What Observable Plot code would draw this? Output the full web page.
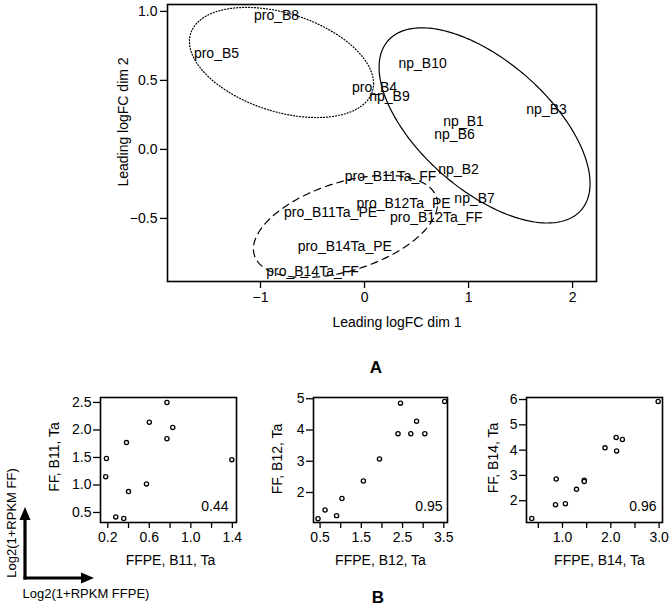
<!DOCTYPE html>
<html>
<head>
<meta charset="utf-8">
<script src="https://cdn.jsdelivr.net/npm/d3@7"></script>
<script src="https://cdn.jsdelivr.net/npm/@observablehq/plot@0.6"></script>
<style>
  html, body { margin: 0; padding: 0; background: white; }
  #root { position: relative; width: 671px; height: 611px; font-family: "Liberation Sans", Arial, sans-serif; }
  #root svg { position: absolute; overflow: visible; }
</style>
</head>
<body>
<div id="root"></div>
<script>
// ---------- Panel A: MDS plot ----------
const mdsLabels = ["pro_B8","pro_B5","pro_B4","np_B9","np_B10","np_B1","np_B6","np_B3","np_B2","np_B7",
  "pro_B11Ta_FF","pro_B12Ta_PE","pro_B11Ta_PE","pro_B12Ta_FF","pro_B14Ta_PE","pro_B14Ta_FF"];
const mdsDim1 = [-0.846,-1.423,0.096,0.24,0.558,0.952,0.865,1.75,0.904,1.058,0.25,0.375,-0.327,0.69,-0.19,-0.5];
const mdsDim2 = [0.971,0.696,0.45,0.384,0.623,0.203,0.109,0.29,-0.145,-0.355,-0.196,-0.391,-0.457,-0.493,-0.703,-0.884];
const mdsXTicks = [-1, 0, 1, 2];
const mdsYTicks = [-0.5, 0, 0.5, 1.0];

// group ellipses (centre, half-extent in x and y, correlation of the outline)
const ellipseGroup = ["pro", "np", "proTa"];
const ellipseCx = [-0.798, 1.154, -0.183];
const ellipseCy = [0.630, 0.174, -0.558];
const ellipseRx = [0.885, 1.014, 0.885];
const ellipseRy = [0.399, 0.707, 0.37];
const ellipseRho = [-0.382, -0.595, 0.44];
const ellipseDash = ["1,2", null, "7,5"];

// ---------- Panel B: scatter plots ----------
const p1x = [0.187,0.18,0.277,0.354,0.38,0.40,0.573,0.60,0.77,0.77,0.826,1.395];
const p1y = [1.48,1.15,0.42,0.39,1.77,0.88,1.02,2.14,2.5,1.84,2.045,1.46];
const p2x = [0.45,0.62,0.90,1.03,1.55,1.94,2.39,2.45,2.70,2.84,3.04,3.52];
const p2y = [1.16,1.44,1.26,1.81,2.37,3.07,3.88,4.86,3.88,4.28,3.88,4.91];
const p3x = [0.364,0.855,0.87,1.06,1.29,1.45,1.45,1.88,2.11,2.12,2.24,2.98];
const p3y = [1.30,1.84,2.86,1.88,2.45,2.81,2.76,4.09,4.50,3.97,4.42,5.92];
const panelCorr = ["0.44", "0.95", "0.96"];
const panelXLabel = ["FFPE, B11, Ta", "FFPE, B12, Ta", "FFPE, B14, Ta"];
const panelYLabel = ["FF, B11, Ta", "FF, B12, Ta", "FF, B14, Ta"];
const panelXTicks = [[0.2,0.4,0.6,0.8,1.0,1.2,1.4],[0.5,1.0,1.5,2.0,2.5,3.0,3.5],[0.5,1.0,1.5,2.0,2.5,3.0]];
const panelXLabeled = [[0.2,0.6,1.0,1.4],[0.5,1.5,2.5,3.5],[1.0,2.0,3.0]];
const panelYTicks = [[0.5,1.0,1.5,2.0,2.5],[2,3,4,5],[2,3,4,5,6]];
const panelYFormat = [".1f", "d", "d"];

const FONT = "Liberation Sans, Arial, Helvetica, sans-serif";
const root = document.getElementById("root");

function place(svg, left, top) {
  svg.style.left = left + "px";
  svg.style.top = top + "px";
  root.appendChild(svg);
}

// ----- MDS -----
const mds = mdsLabels.map((label, i) => ({label, d1: mdsDim1[i], d2: mdsDim2[i]}));
const ellipseRows = [];
ellipseGroup.forEach((g, k) => {
  const s = Math.sqrt(1 - ellipseRho[k] * ellipseRho[k]);
  for (let j = 0; j <= 240; j++) {
    const t = (j / 240) * 2 * Math.PI;
    ellipseRows.push({
      group: g,
      x: ellipseCx[k] + ellipseRx[k] * Math.cos(t),
      y: ellipseCy[k] + ellipseRy[k] * (ellipseRho[k] * Math.cos(t) + s * Math.sin(t))
    });
  }
});

const centered = {textAnchor: "middle", lineAnchor: "middle", fontSize: 14, fill: "black"};

const topPlot = Plot.plot({
  width: 671, height: 330,
  marginLeft: 167, marginRight: 75, marginTop: 4, marginBottom: 49,
  style: {fontFamily: FONT, color: "black", background: "transparent"},
  x: {domain: [-1.894, 2.23]},
  y: {domain: [-0.957, 1.05]},
  marks: [
    ...ellipseGroup.map((g, k) => Plot.line(ellipseRows.filter(r => r.group === g), {
      x: "x", y: "y", stroke: "black", strokeWidth: 1.2,
      strokeDasharray: ellipseDash[k] ?? undefined
    })),
    Plot.text(mds, {x: "d1", y: "d2", text: "label", ...centered}),
    Plot.frame({stroke: "black", strokeWidth: 1.6}),
    Plot.axisX(mdsXTicks, {tickSize: 7, tickPadding: 4, fontSize: 14, strokeWidth: 1.3, label: null, tickFormat: d3.format("d")}),
    Plot.axisY(mdsYTicks, {tickSize: 7, tickPadding: 3, fontSize: 14, strokeWidth: 1.3, label: null, tickFormat: d3.format(".1f")}),
    Plot.text(["Leading logFC dim 1"], {frameAnchor: "bottom", dx: 15, dy: 41, ...centered}),
    Plot.text(["Leading logFC dim 2"], {frameAnchor: "left", rotate: -90, dx: -44, dy: -21, ...centered})
  ]
});
place(topPlot, 0, 0);

// ----- scatter panels -----
const panelXs = [p1x, p2x, p3x];
const panelYs = [p1y, p2y, p3y];
const panelLayout = [
  {left: 0,   width: 240, ml: 100, mr: 4, xd: [0.13, 1.44],  yd: [0.318, 2.59], xlDx: 2, ylDx: -46, ylDy: -3, cDx: -8},
  {left: 230, width: 220, ml: 83,  mr: 3, xd: [0.34, 3.59],  yd: [1.04, 5.04],  xlDx: 0, ylDx: -36, ylDy: -1, cDx: -5},
  {left: 440, width: 231, ml: 86,  mr: 9, xd: [0.255, 3.07], yd: [1.14, 6.08],  xlDx: 5, ylDx: -33, ylDy: -2, cDx: -6}
];
const fmt1 = d3.format(".1f");
panelLayout.forEach((L, k) => {
  const pts = panelXs[k].map((x, i) => ({x, y: panelYs[k][i]}));
  const labeled = panelXLabeled[k];
  const p = Plot.plot({
    width: L.width, height: 220,
    marginLeft: L.ml, marginRight: L.mr, marginTop: 36, marginBottom: 59,
    style: {fontFamily: FONT, color: "black", background: "transparent"},
    x: {domain: L.xd},
    y: {domain: L.yd},
    marks: [
      Plot.dot(pts, {x: "x", y: "y", r: 2.1, stroke: "black", strokeWidth: 1.3, fill: "white"}),
      Plot.frame({stroke: "black", strokeWidth: 1.6}),
      Plot.axisX(panelXTicks[k], {tickSize: 6, tickPadding: 4, fontSize: 14, strokeWidth: 1.3, label: null,
        tickFormat: d => labeled.some(v => Math.abs(v - d) < 1e-9) ? fmt1(d) : ""}),
      Plot.axisY(panelYTicks[k], {tickSize: 7, tickPadding: 2, fontSize: 14, strokeWidth: 1.3, label: null,
        tickFormat: d3.format(panelYFormat[k])}),
      Plot.text([panelCorr[k]], {frameAnchor: "bottom-right", dx: L.cDx, dy: -16, ...centered, textAnchor: "end"}),
      Plot.text([panelXLabel[k]], {frameAnchor: "bottom", dx: L.xlDx, dy: 38, ...centered}),
      Plot.text([panelYLabel[k]], {frameAnchor: "left", rotate: -90, dx: L.ylDx, dy: L.ylDy, ...centered})
    ]
  });
  place(p, L.left, 361);
});

// ----- overlay: panel letters and axis key arrows -----
const NS = "http://www.w3.org/2000/svg";
const ov = document.createElementNS(NS, "svg");
ov.setAttribute("width", 671);
ov.setAttribute("height", 611);
ov.style.left = "0px"; ov.style.top = "0px"; ov.style.pointerEvents = "none";
ov.innerHTML = `
  <g font-family="${FONT}" fill="black">
    <text x="376" y="373" font-size="17" font-weight="bold" text-anchor="middle">A</text>
    <text x="378" y="603" font-size="17" font-weight="bold" text-anchor="middle">B</text>
    <text transform="translate(16,523) rotate(-90)" font-size="13" text-anchor="middle">Log2(1+RPKM FF)</text>
    <text x="86" y="598" font-size="13" text-anchor="middle">Log2(1+RPKM FFPE)</text>
  </g>
  <g stroke="black" stroke-width="3.2" fill="none">
    <path d="M25,579.5 V518"/>
    <path d="M23.5,578 H83"/>
  </g>
  <g fill="black">
    <path d="M25,507 L19.5,520 L30.5,520 Z"/>
    <path d="M94,578 L81,572.5 L81,583.5 Z"/>
  </g>`;
root.appendChild(ov);
</script>
</body>
</html>
